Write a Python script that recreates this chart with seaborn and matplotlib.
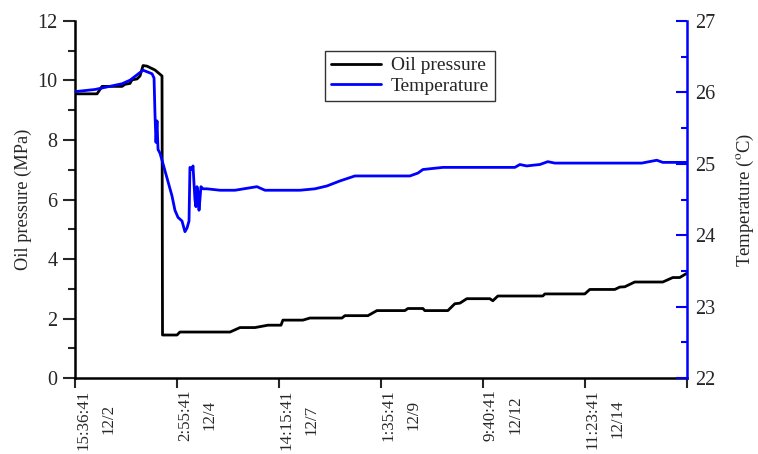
import matplotlib
matplotlib.use("Agg")
import matplotlib.pyplot as plt
import matplotlib.transforms as mtransforms
import pandas as pd
import seaborn as sns
from matplotlib.ticker import MultipleLocator

# sample position along the record (ticks every 100 samples)
pressure_x = [0, 21.6, 26.5, 46.1, 49, 53.9, 55.9, 60.8, 63.7, 66.7, 70.6, 78.4, 85.3, 85.8,
              100, 102.9, 152, 161.8, 176.5, 189.2, 202, 203.9, 223.5, 230.4, 261.8, 264.7,
              287.3, 296.1, 323.5, 326.5, 341.2, 343.1, 365.7, 372.5, 377.5, 384.3, 406.9,
              409.8, 414.7, 458.8, 460.8, 500, 504.9, 529.4, 534.3, 539.2, 549, 576.5, 586.3,
              593.1, 600]
pressure = [9.55, 9.55, 9.8, 9.8, 9.87, 9.9, 10.02, 10.05, 10.15, 10.5, 10.48, 10.35, 10.15, 1.45,
            1.45, 1.55, 1.55, 1.70, 1.70, 1.78, 1.78, 1.95, 1.95, 2.02, 2.02, 2.1,
            2.1, 2.27, 2.27, 2.34, 2.34, 2.27, 2.27, 2.5, 2.52, 2.67, 2.67,
            2.6, 2.76, 2.76, 2.83, 2.83, 2.98, 2.98, 3.06, 3.07, 3.23, 3.23, 3.38,
            3.38, 3.52]

temp_x = [0, 19.6, 29.4, 46.1, 53.9, 66.7, 75.5, 77.5, 78.4, 79.4, 80.4, 81.4, 83.3, 87.3,
          91.2, 95.1, 98, 101, 104.9, 107.8, 109.8, 111.8, 112.7, 114.7, 115.7, 117.6,
          118.6, 119.6, 120.6, 121.6, 122.5, 123.5, 125.5, 129.4, 142.2, 156.9, 178.4,
          186.3, 220.6, 235.3, 247.1, 259.8, 274.5, 328.4, 336.3, 341.2, 360.8, 431.4,
          436.3, 443.1, 449, 455.9, 463.7, 470.6, 555.9, 570.6, 576.5, 600]
temperature = [26.01, 26.04, 26.07, 26.12, 26.17, 26.31, 26.26, 26.2, 25.7, 25.3, 25.6, 25.2, 25.15, 24.95,
               24.75, 24.55, 24.35, 24.25, 24.2, 24.05, 24.1, 24.2, 24.95, 24.92, 24.97, 24.5,
               24.4, 24.68, 24.6, 24.35, 24.5, 24.68, 24.65, 24.65, 24.63, 24.63, 24.68,
               24.63, 24.63, 24.65, 24.69, 24.76, 24.83, 24.83, 24.87, 24.92, 24.95, 24.95,
               24.99, 24.97, 24.98, 24.99, 25.03, 25.01, 25.01, 25.05, 25.02, 25.02]

tick_pos = [0, 100, 200, 300, 400, 500, 600]
tick_labels = ["15:36:41\n12/2", "2:55:41\n12/4", "14:15:41\n12/7", "1:35:41\n12/9",
               "9:40:41\n12/12", "11:23:41\n12/14", ""]

sns.set_style("ticks")
plt.rcParams["font.family"] = ["Liberation Serif", "DejaVu Serif"]
plt.rcParams["mathtext.fontset"] = "stix"

p_df = pd.DataFrame({"x": pressure_x, "y": pressure})
t_df = pd.DataFrame({"x": temp_x, "y": temperature})

fig = plt.figure(figsize=(7.58, 4.54), dpi=100)
ax = fig.add_axes([0.099, 0.167, 0.807, 0.787])
ax2 = ax.twinx()

sns.lineplot(data=p_df, x="x", y="y", ax=ax, color="black", lw=2, estimator=None,
             sort=False, label="Oil pressure", legend=False)
sns.lineplot(data=t_df, x="x", y="y", ax=ax2, color="#0000ff", lw=2, estimator=None,
             sort=False, label="Temperature", legend=False)

ax.set_xlim(0, 600)
ax.set_ylim(0, 12)
ax2.set_ylim(22, 27)

ax.set_xticks(tick_pos)
ax.set_xticklabels(tick_labels, rotation=90, ha="left", va="top",
                   multialignment="center", fontsize=12.2, linespacing=1.75)
shift = mtransforms.ScaledTranslation(-6 / 100, 0, fig.dpi_scale_trans)
for lbl in ax.get_xticklabels():
    lbl.set_transform(lbl.get_transform() + shift)
ax.yaxis.set_major_locator(MultipleLocator(2))
ax.yaxis.set_minor_locator(MultipleLocator(1))
ax.tick_params(axis="y", which="major", length=9, width=1.5, labelsize=14.5, direction="out")
ax.tick_params(axis="y", which="minor", length=5, width=1.5, direction="out")
ax.tick_params(axis="x", length=7, width=1.5, direction="out", pad=1)

ax2.yaxis.set_major_locator(MultipleLocator(1))
ax2.yaxis.set_minor_locator(MultipleLocator(0.5))
ax2.tick_params(axis="y", which="major", length=8, width=1.5, labelsize=14.5,
                direction="in", color="#0000ff", pad=6)
ax2.tick_params(axis="y", which="minor", length=4, width=1.5, direction="in", color="#0000ff")

for side in ["left", "bottom"]:
    ax.spines[side].set_linewidth(1.8)
    ax.spines[side].set_color("black")
ax.spines["top"].set_visible(False)
ax2.spines["top"].set_visible(False)
ax.spines["right"].set_visible(False)
ax2.spines["left"].set_visible(False)
ax2.spines["bottom"].set_visible(False)
ax2.spines["right"].set_linewidth(1.8)
ax2.spines["right"].set_color("#0000ff")

ax.set_xlabel("")
ax.set_ylabel("Oil pressure (MPa)", fontsize=13.2, labelpad=4)
ax2.set_ylabel("Temperature ($^{\\rm o}$C)", fontsize=13.5, labelpad=14)

h1, l1 = ax.get_legend_handles_labels()
h2, l2 = ax2.get_legend_handles_labels()
leg = fig.legend(h1 + h2, l1 + l2, loc="upper center", bbox_to_anchor=(0.541, 0.909),
                 fontsize=14, frameon=True, fancybox=False, edgecolor="black",
                 handlelength=2.6, borderpad=0.3, labelspacing=0.15, handletextpad=0.5)
leg.get_frame().set_linewidth(1.0)

fig.savefig("out.png", dpi=100)
